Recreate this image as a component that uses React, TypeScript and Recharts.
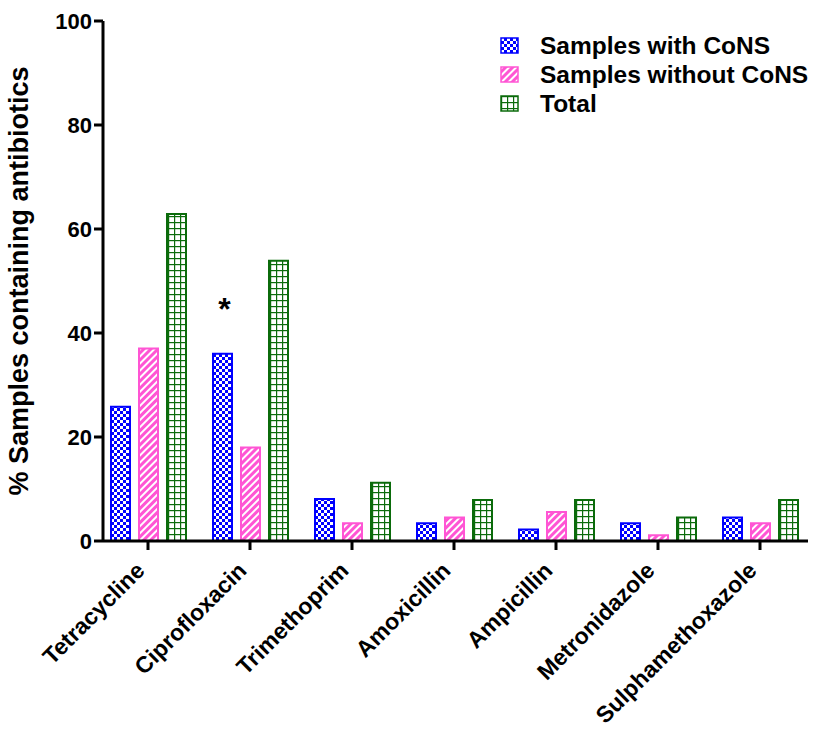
import { BarChart, Bar, XAxis, YAxis, LabelList } from 'recharts';

const categories = ['Tetracycline', 'Ciprofloxacin', 'Trimethoprim', 'Amoxicillin', 'Ampicillin', 'Metronidazole', 'Sulphamethoxazole'];
const withCoNS = [25.8, 36, 8.1, 3.4, 2.2, 3.4, 4.5];
const withoutCoNS = [37, 18, 3.4, 4.5, 5.6, 1.1, 3.4];
const total = [62.9, 53.9, 11.2, 7.9, 7.9, 4.5, 7.9];
const yTicks = [0, 20, 40, 60, 80, 100];
const significance = ['', '*', '', '', '', '', ''];

const BLUE = '#0000FF';
const PINK = '#FF55D4';
const GREEN = '#0B6B0B';
const FONT = 'Arial, "Liberation Sans", Helvetica, sans-serif';

const data = categories.map((name, i) => ({
    name,
    withCoNS: withCoNS[i],
    withoutCoNS: withoutCoNS[i],
    total: total[i],
    sig: significance[i],
}));

const legendItems = [
    { label: 'Samples with CoNS', fill: 'url(#checker)', stroke: BLUE },
    { label: 'Samples without CoNS', fill: 'url(#hatch)', stroke: PINK },
    { label: 'Total', fill: 'url(#grid)', stroke: GREEN },
];

function XTick({ x, y, payload }: any) {
    const ax = x - 2;
    const ay = y + 20;
    return (
        <text
            x={ax}
            y={ay}
            transform={`rotate(-45 ${ax} ${ay})`}
            textAnchor="end"
            fontFamily={FONT}
            fontWeight="bold"
            fontSize={23}
            fill="#000"
        >
            {payload.value}
        </text>
    );
}

function SigLabel({ x, y, width, value }: any) {
    if (!value) return null;
    return (
        <text x={x + width / 2 + 2} y={y - 34} textAnchor="middle" fontFamily={FONT} fontWeight="bold" fontSize={32} fill="#000">
            {value}
        </text>
    );
}

export default function App() {
    return (
        <div style={{ position: 'absolute', left: 0, top: 0, background: '#fff' }}>
            <BarChart
                width={820}
                height={735}
                data={data}
                margin={{ top: 21, right: 12, left: 0, bottom: 0 }}
                barSize={19}
                barGap={9}
            >
                <defs>
                    <pattern id="checker" width="6" height="6" patternUnits="userSpaceOnUse">
                        <rect width="6" height="6" fill={BLUE} />
                        <rect x="0" y="0" width="3" height="3" fill="#fff" />
                        <rect x="3" y="3" width="3" height="3" fill="#fff" />
                    </pattern>
                    <pattern id="hatch" width="5" height="5" patternUnits="userSpaceOnUse" patternTransform="rotate(45)">
                        <rect width="5" height="5" fill={PINK} />
                        <rect x="0" y="0" width="2" height="5" fill="#fff" />
                    </pattern>
                    <pattern id="grid" width="6" height="6" patternUnits="userSpaceOnUse">
                        <rect width="6" height="6" fill="#fff" />
                        <rect x="0" y="0" width="6" height="1.2" fill={GREEN} />
                        <rect x="0" y="0" width="1.2" height="6" fill={GREEN} />
                    </pattern>
                </defs>
                <XAxis
                    dataKey="name"
                    height={194}
                    interval={0}
                    padding={{ left: -6, right: -3 }}
                    axisLine={{ stroke: '#000', strokeWidth: 3 }}
                    tickLine={{ stroke: '#000', strokeWidth: 3 }}
                    tickSize={9}
                    tick={<XTick />}
                />
                <YAxis
                    domain={[0, 100]}
                    ticks={yTicks}
                    width={103}
                    axisLine={{ stroke: '#000', strokeWidth: 3 }}
                    tickLine={{ stroke: '#000', strokeWidth: 3 }}
                    tickSize={9}
                    tick={{ fill: '#000', fontFamily: FONT, fontWeight: 'bold', fontSize: 22 }}
                    label={{
                        value: '% Samples containing antibiotics',
                        angle: -90,
                        position: 'insideLeft',
                        offset: 18,
                        style: { textAnchor: 'middle', fill: '#000', fontFamily: FONT, fontWeight: 'bold', fontSize: 27 },
                    }}
                />
                <Bar dataKey="withCoNS" fill="url(#checker)" stroke={BLUE} strokeWidth={2} isAnimationActive={false}>
                    <LabelList dataKey="sig" content={<SigLabel />} />
                </Bar>
                <Bar dataKey="withoutCoNS" fill="url(#hatch)" stroke={PINK} strokeWidth={2} isAnimationActive={false} />
                <Bar dataKey="total" fill="url(#grid)" stroke={GREEN} strokeWidth={2} isAnimationActive={false} />
                <g>
                    {legendItems.map((item, i) => (
                        <g key={item.label} transform={`translate(501, ${38 + i * 29})`}>
                            <rect x={0} y={0} width={17} height={15} fill={item.fill} stroke={item.stroke} strokeWidth={1.5} />
                            <text x={39} y={16} fontFamily={FONT} fontWeight="bold" fontSize={24.5} fill="#000">
                                {item.label}
                            </text>
                        </g>
                    ))}
                </g>
            </BarChart>
        </div>
    );
}
